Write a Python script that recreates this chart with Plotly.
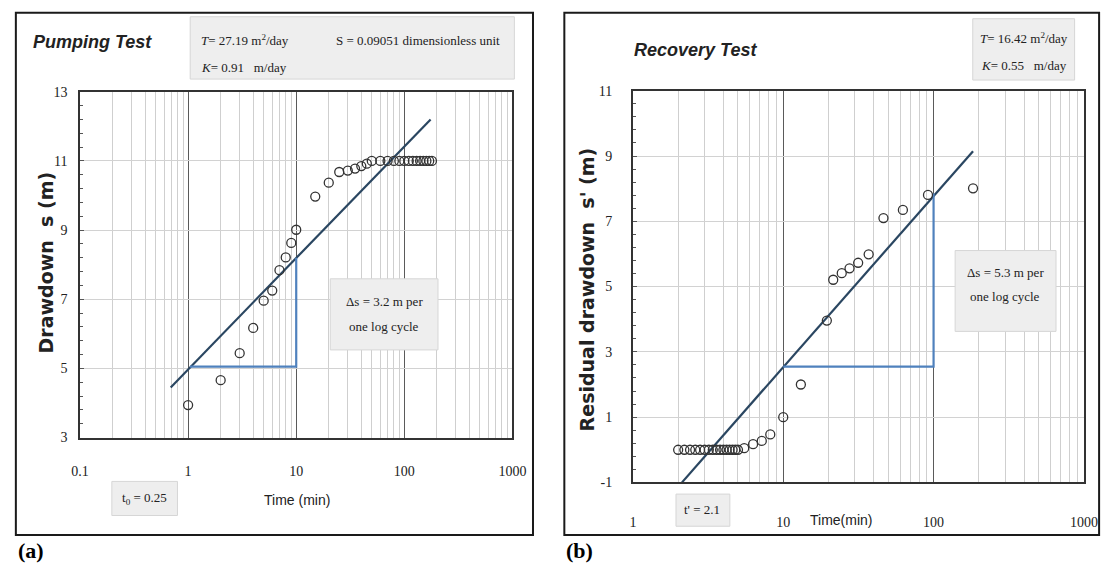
import plotly.graph_objects as go

# ---------------- data ----------------
pump_time = [1, 2, 3, 4, 5, 6, 7, 8, 9, 10, 15, 20, 25, 30, 35, 40, 45,
             50, 60, 70, 80, 90, 100, 110, 120, 130, 140, 150, 160, 170, 180]
pump_drawdown = [3.94, 4.66, 5.44, 6.17, 6.96, 7.25, 7.84, 8.21, 8.63, 9.01, 9.97, 10.37,
                 10.68, 10.72, 10.78, 10.85, 10.92,
                 11.0, 11.0, 11.0, 11.0, 11.0, 11.0, 11.0, 11.0, 11.0, 11.0, 11.0, 11.0, 11.0, 11.0]

pump_fit_time = [0.69, 175]
pump_fit_s = [4.45, 12.2]
pump_tri_time = [1.04, 10, 10]
pump_tri_s = [5.05, 5.05, 8.2]

rec_time = [2.0, 2.2, 2.4, 2.6, 2.8, 3.0, 3.2, 3.4, 3.6, 3.8, 4.0, 4.2, 4.4, 4.6, 4.8, 5.0,
            5.5, 6.3, 7.2, 8.2, 10, 13.1, 19.5, 21.5, 24.5, 27.6, 31.5, 37, 46.4, 62.5, 91.8, 183]
rec_residual = [0, 0, 0, 0, 0, 0, 0, 0, 0, 0, 0, 0, 0, 0, 0, 0,
                0.05, 0.17, 0.27, 0.47, 1.0, 2.0, 3.96, 5.21, 5.41, 5.56, 5.73, 5.99, 7.1, 7.35, 7.81, 8.01]

rec_fit_time = [2.12, 183]
rec_fit_s = [-1.0, 9.15]
rec_tri_time = [10, 100, 100]
rec_tri_s = [2.55, 2.55, 7.85]

pump_xtick_vals = [0.1, 1, 10, 100, 1000]
pump_xtick_text = ["0.1", "1", "10", "100", "1000"]
pump_ytick_vals = [3, 5, 7, 9, 11, 13]
pump_ytick_text = ["3", "5", "7", "9", "11", "13"]
rec_xtick_vals = [1, 10, 100, 1000]
rec_xtick_text = ["1", "10", "100", "1000"]
rec_ytick_vals = [-1, 1, 3, 5, 7, 9, 11]
rec_ytick_text = ["-1", "1", "3", "5", "7", "9", "11"]

# ---------------- layout helpers ----------------
W, H = 1118, 581


def PX(x):
    return x / W


def PY(y):
    return 1 - y / H


def minor_vals(lo_exp, hi_exp):
    return [m * 10 ** e for e in range(lo_exp, hi_exp) for m in range(2, 10)]


SERIF = "Liberation Serif, Times New Roman, serif"
NARROW = "Liberation Sans Narrow, Arial Narrow, Liberation Sans, sans-serif"
BOLDSANS = "DejaVu Sans, Verdana, sans-serif"
TXT = "#222222"
FIT = "#2a4661"
BLUE = "#4f81bd"

fig = go.Figure()

marker = dict(symbol="circle-open", size=9, color="#333333", line=dict(width=1.3, color="#333333"))

fig.add_trace(go.Scatter(x=pump_fit_time, y=pump_fit_s, mode="lines",
                         line=dict(color=FIT, width=2.2), xaxis="x", yaxis="y", showlegend=False))
fig.add_trace(go.Scatter(x=pump_tri_time, y=pump_tri_s, mode="lines",
                         line=dict(color=BLUE, width=2.2), xaxis="x", yaxis="y", showlegend=False))
fig.add_trace(go.Scatter(x=pump_time, y=pump_drawdown, mode="markers", marker=marker,
                         xaxis="x", yaxis="y", showlegend=False))

fig.add_trace(go.Scatter(x=rec_fit_time, y=rec_fit_s, mode="lines",
                         line=dict(color=FIT, width=2.2), xaxis="x2", yaxis="y2", showlegend=False))
fig.add_trace(go.Scatter(x=rec_tri_time, y=rec_tri_s, mode="lines",
                         line=dict(color=BLUE, width=2.2), xaxis="x2", yaxis="y2", showlegend=False))
fig.add_trace(go.Scatter(x=rec_time, y=rec_residual, mode="markers", marker=marker,
                         xaxis="x2", yaxis="y2", showlegend=False))

tickfont = dict(family=SERIF, size=14, color=TXT)


def xaxis_cfg(domain, rng, vals, text, minors, anchor, standoff):
    return dict(domain=domain, type="log", range=rng, tickmode="array", tickvals=vals, ticktext=text,
                showgrid=True, gridcolor="#5a5a5a", gridwidth=1.2,
                minor=dict(tickmode="array", tickvals=minors, showgrid=True, gridcolor="#cfcfcf",
                           gridwidth=1, ticks=""),
                showline=True, linecolor="#333333", linewidth=1.6, mirror=True,
                ticks="", tickfont=tickfont, ticklabelstandoff=standoff, anchor=anchor,
                zeroline=False, fixedrange=True)


def yaxis_cfg(domain, rng, vals, text, anchor, standoff):
    return dict(domain=domain, range=rng, tickmode="array", tickvals=vals, ticktext=text,
                showgrid=True, gridcolor="#d2d2d2", gridwidth=1,
                minor=dict(dtick=0.4, tick0=rng[0], ticks="inside", ticklen=3, tickcolor="#555555",
                           showgrid=False),
                showline=True, linecolor="#333333", linewidth=1.6, mirror=True,
                ticks="inside", ticklen=4, tickcolor="#555555",
                tickfont=tickfont, ticklabelstandoff=standoff, anchor=anchor,
                zeroline=False, fixedrange=True)


fig.update_layout(
    width=W, height=H, margin=dict(l=0, r=0, t=0, b=0),
    paper_bgcolor="white", plot_bgcolor="white",
    xaxis=xaxis_cfg([PX(72.5), PX(514)], [-1, 3], pump_xtick_vals, pump_xtick_text,
                    minor_vals(-1, 3), "y", 20),
    yaxis=yaxis_cfg([PY(442), PY(87)], [3, 13], pump_ytick_vals, pump_ytick_text, "x", 8),
    xaxis2=xaxis_cfg([PX(637), PX(1097.5)], [0, 3], rec_xtick_vals, rec_xtick_text,
                     minor_vals(0, 3), "y2", 26),
    yaxis2=yaxis_cfg([PY(488), PY(86)], [-1, 11], rec_ytick_vals, rec_ytick_text, "x2", 16),
)

shapes = []
# panel frames
shapes.append(dict(type="rect", xref="paper", yref="paper", x0=PX(7), x1=PX(535), y0=PY(542), y1=PY(6),
                   line=dict(color="#1a1a1a", width=2), layer="below"))
shapes.append(dict(type="rect", xref="paper", yref="paper", x0=PX(567), x1=PX(1113), y0=PY(542), y1=PY(6),
                   line=dict(color="#1a1a1a", width=2), layer="below"))


def box(x0, y0, x1, y1):
    shapes.append(dict(type="rect", xref="paper", yref="paper", x0=PX(x0), x1=PX(x1), y0=PY(y1), y1=PY(y0),
                       fillcolor="#eeeeee", line=dict(color="#d6d6d6", width=1), layer="above"))


box(185, 10, 516, 74)      # pumping parameters
box(328, 279, 438, 352)    # delta s (a)
box(105, 487, 172, 522)    # t0
box(984, 12, 1088, 75)     # recovery parameters
box(966, 250, 1069, 333)   # delta s (b)
box(681, 500, 736, 533)    # t'
fig.update_layout(shapes=shapes)

ann = []


def text(x, y, s, size=13, family=SERIF, xanchor="center", angle=0, color=TXT):
    ann.append(dict(x=PX(x), y=PY(y), xref="paper", yref="paper", text=s, showarrow=False,
                    xanchor=xanchor, yanchor="middle", textangle=angle,
                    font=dict(family=family, size=size, color=color)))


# panel (a)
text(22, 36, "<b><i>Pumping Test</i></b>", size=18, family=NARROW, xanchor="left")
text(194, 34, "<i>T</i>= 27.19 m<sup>2</sup>/day", size=13, xanchor="left")
text(332, 34, "S = 0.09051 dimensionless unit", size=13, xanchor="left")
text(194, 62, "<i>K</i>= 0.91   m/day", size=13, xanchor="left")
text(383, 302, "Δs = 3.2 m per", size=13)
text(383, 328, "one log cycle", size=13)
text(138, 505, "t<sub>0</sub> = 0.25", size=13)
text(294, 506, "Time (min)", size=14, family=NARROW)
text(38, 262, "<b>Drawdown  s (m)</b>", size=19, family=BOLDSANS, angle=-90)
text(7, 558, "<b>(a)</b>", size=22, xanchor="left", color="#000000")

# panel (b)
text(636, 44, "<b><i>Recovery Test</i></b>", size=18, family=NARROW, xanchor="left")
text(1036, 32, "<i>T</i>= 16.42 m<sup>2</sup>/day", size=13)
text(1036, 60, "<i>K</i>= 0.55   m/day", size=13)
text(1017, 273, "Δs = 5.3 m per", size=13)
text(1017, 297, "one log cycle", size=13)
text(708, 516, "t' = 2.1", size=13)
text(849, 527, "Time(min)", size=14, family=NARROW)
text(590, 290, "<b>Residual drawdown  s' (m)</b>", size=19, family=BOLDSANS, angle=-90)
text(567, 558, "<b>(b)</b>", size=22, xanchor="left", color="#000000")

fig.update_layout(annotations=ann)

fig.write_html("out.html", config={"displayModeBar": False},
               post_script="document.body.style.margin='0px';")
